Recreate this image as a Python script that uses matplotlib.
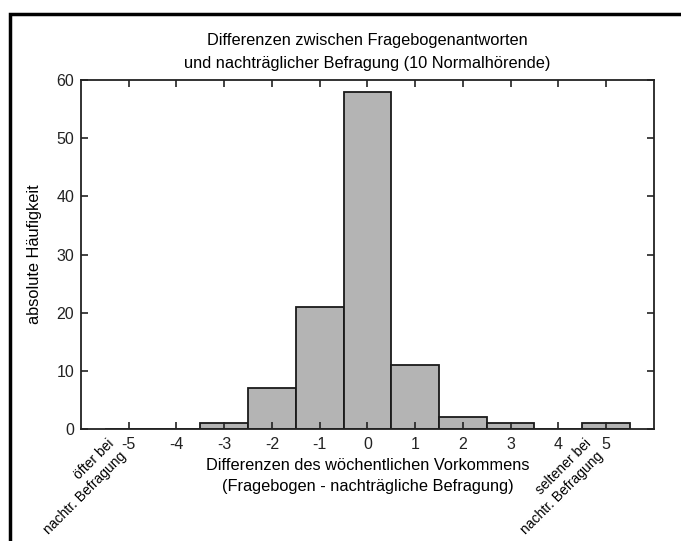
import matplotlib.pyplot as plt
from matplotlib.patches import Rectangle
from matplotlib.transforms import blended_transform_factory

plt.rcParams['font.family'] = ['Liberation Sans', 'DejaVu Sans']

# Differenzen (Fragebogen - nachträgliche Befragung) und Häufigkeiten
differenzen = [-5, -4, -3, -2, -1, 0, 1, 2, 3, 4, 5]
haeufigkeit = [0, 0, 1, 7, 21, 58, 11, 2, 1, 0, 1]
y_ticks = [0, 10, 20, 30, 40, 50, 60]

fig = plt.figure(figsize=(6.81, 5.41), dpi=100)
ax = fig.add_axes([0.119, 0.207, 0.841, 0.645])

# Rahmen um die ganze Grafik
fig.patches.append(Rectangle((10 / 681, -0.1), 1.2, 1 - 14 / 541 + 0.1,
                             transform=fig.transFigure, fill=False,
                             edgecolor='black', linewidth=2.5))

ax.bar(differenzen, haeufigkeit, width=1.0, color='#b4b4b4',
       edgecolor='#1a1a1a', linewidth=1.3)

ax.set_xlim(-6, 6)
ax.set_ylim(0, 60)
ax.set_xticks(differenzen)
ax.set_xticklabels([str(d) for d in differenzen])
ax.set_yticks(y_ticks)
ax.tick_params(direction='in', length=5, width=1.2, top=True, right=True,
               labelsize=11.5, colors='#222222')
ax.tick_params(axis='x', pad=6)
ax.tick_params(axis='y', pad=5)
for s in ax.spines.values():
    s.set_linewidth(1.3)
    s.set_color('#222222')

ax.set_title('Differenzen zwischen Fragebogenantworten\n'
             'und nachträglicher Befragung (10 Normalhörende)',
             fontsize=11.8, pad=9, linespacing=1.6)
ax.set_xlabel('Differenzen des wöchentlichen Vorkommens\n'
              '(Fragebogen - nachträgliche Befragung)', fontsize=11.8,
              labelpad=4, linespacing=1.5)
ax.set_ylabel('absolute Häufigkeit', fontsize=11.8, labelpad=10)

# schräge Zusatzbeschriftung an den Enden der Skala
trans = blended_transform_factory(ax.transData, ax.transAxes)
ax.text(-5, -0.085, 'öfter bei\nnachtr. Befragung', transform=trans,
        rotation=45, rotation_mode='anchor', ha='right', va='bottom',
        multialignment='right', fontsize=10, linespacing=1.3)
ax.text(5, -0.085, 'seltener bei\nnachtr. Befragung', transform=trans,
        rotation=45, rotation_mode='anchor', ha='right', va='bottom',
        multialignment='right', fontsize=10, linespacing=1.3)

fig.savefig('out.png', dpi=100)
